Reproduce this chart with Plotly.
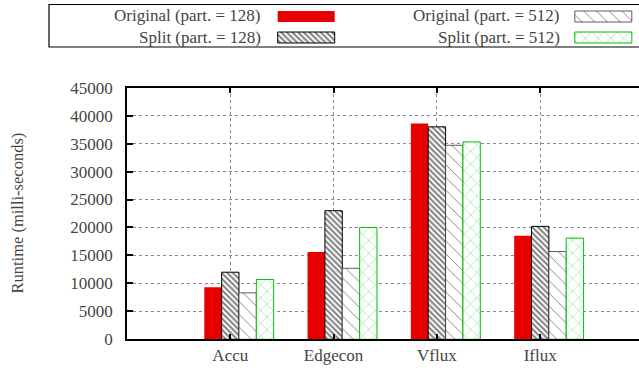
import plotly.graph_objects as go

# ---- data ----
categories = ["Accu", "Edgecon", "Vflux", "Iflux"]
orig128 = [9300, 15600, 38600, 18500]
split128 = [12000, 23000, 38000, 20200]
orig512 = [8300, 12700, 34700, 15700]
split512 = [10700, 20000, 35300, 18100]
series_names = ["Original (part. = 128)", "Split (part. = 128)",
                "Original (part. = 512)", "Split (part. = 512)"]
y_ticks = list(range(0, 45001, 5000))

W, H = 639, 368
FONT = "Liberation Serif"
FS = 17
TXT = "#444"
RED = "#e80000"
GREEN = "#00c000"

xpos = [i + 1 for i in range(len(categories))]
bw = 0.168
offsets = [-0.252, -0.084, 0.084, 0.252]

styles = [
    dict(color=RED, line=dict(color=RED, width=0)),
    dict(color="white", line=dict(color="black", width=1),
         pattern=dict(shape="\\", fgcolor="black", bgcolor="white", size=4, solidity=0.5)),
    dict(color="white", line=dict(color="#333", width=0.8),
         pattern=dict(shape="\\", fgcolor="black", bgcolor="white", size=9, solidity=0.1)),
    dict(color="white", line=dict(color=GREEN, width=1),
         pattern=dict(shape="x", fgcolor=GREEN, bgcolor="white", size=9, solidity=0.12)),
]
values = [orig128, split128, orig512, split512]

fig = go.Figure()
for name, vals, st, off in zip(series_names, values, styles, offsets):
    fig.add_trace(go.Bar(x=xpos, y=vals, name=name, width=bw, offset=off,
                         marker=st, showlegend=False, xaxis="x", yaxis="y"))

# ---- manual legend (keys drawn on a hidden pixel-scaled axis) ----
leg_rows = [(16, 11), (37, 32)]  # text center y, key top y
leg_cols = [(263, 306.2), (562, 603.3)]  # text right x, key center x
legend_order = [(0, 0, 0), (1, 0, 1), (2, 1, 0), (3, 1, 1)]  # series, col, row
annotations = []
for si, ci, ri in legend_order:
    tx, kx = leg_cols[ci]
    ty, ky = leg_rows[ri]
    fig.add_trace(go.Bar(x=[kx], y=[11], base=[ky], width=[57], marker=styles[si],
                         showlegend=False, xaxis="x2", yaxis="y2", hoverinfo="skip"))
    annotations.append(dict(text=series_names[si], x=tx / W, y=1 - ty / H,
                            xref="paper", yref="paper", xanchor="right", yanchor="middle",
                            showarrow=False, font=dict(family=FONT, size=FS, color=TXT)))

annotations.append(dict(text="Runtime (milli-seconds)", x=17 / W, y=1 - 213.5 / H,
                        xref="paper", yref="paper", xanchor="center", yanchor="middle",
                        textangle=-90, showarrow=False,
                        font=dict(family=FONT, size=16.5, color=TXT)))

x_left, x_unit = 127, 103.3
y_top, y_bot = 87.7, 339.3

fig.update_layout(
    width=W, height=H,
    margin=dict(l=0, r=0, t=0, b=0, autoexpand=False),
    paper_bgcolor="white", plot_bgcolor="white",
    barmode="overlay",
    annotations=annotations,
    shapes=[dict(type="rect", xref="paper", yref="paper",
                 x0=49 / W, x1=1.05, y0=1 - 47 / H, y1=1 - 4.5 / H,
                 line=dict(color="black", width=1.2), fillcolor="rgba(0,0,0,0)")],
    xaxis=dict(domain=[x_left / W, 1], range=[0, (W - x_left) / x_unit],
               tickvals=xpos, ticktext=categories, automargin=False,
               showline=True, linecolor="black", linewidth=1.5, mirror="ticks",
               ticks="inside", ticklen=6, tickcolor="black", tickwidth=1.5,
               showgrid=True, gridcolor="#888", griddash="dot", gridwidth=1,
               zeroline=False, ticklabelstandoff=0,
               tickfont=dict(family=FONT, size=FS, color=TXT)),
    yaxis=dict(domain=[1 - y_bot / H, 1 - y_top / H], range=[0, 45000],
               tickvals=y_ticks, tickformat="d", automargin=False,
               showline=True, linecolor="black", linewidth=1.5,
               ticks="inside", ticklen=6, tickcolor="black", tickwidth=1.5,
               showgrid=True, gridcolor="#888", griddash="dot", gridwidth=1,
               zeroline=False, ticklabelstandoff=9,
               tickfont=dict(family=FONT, size=FS, color=TXT)),
    xaxis2=dict(domain=[0, 1], range=[0, W], visible=False, anchor="y2",
                fixedrange=True, automargin=False),
    yaxis2=dict(domain=[1 - 50 / H, 1], range=[50, 0], visible=False, anchor="x2",
                fixedrange=True, automargin=False),
)

fig.write_html("out.html")
